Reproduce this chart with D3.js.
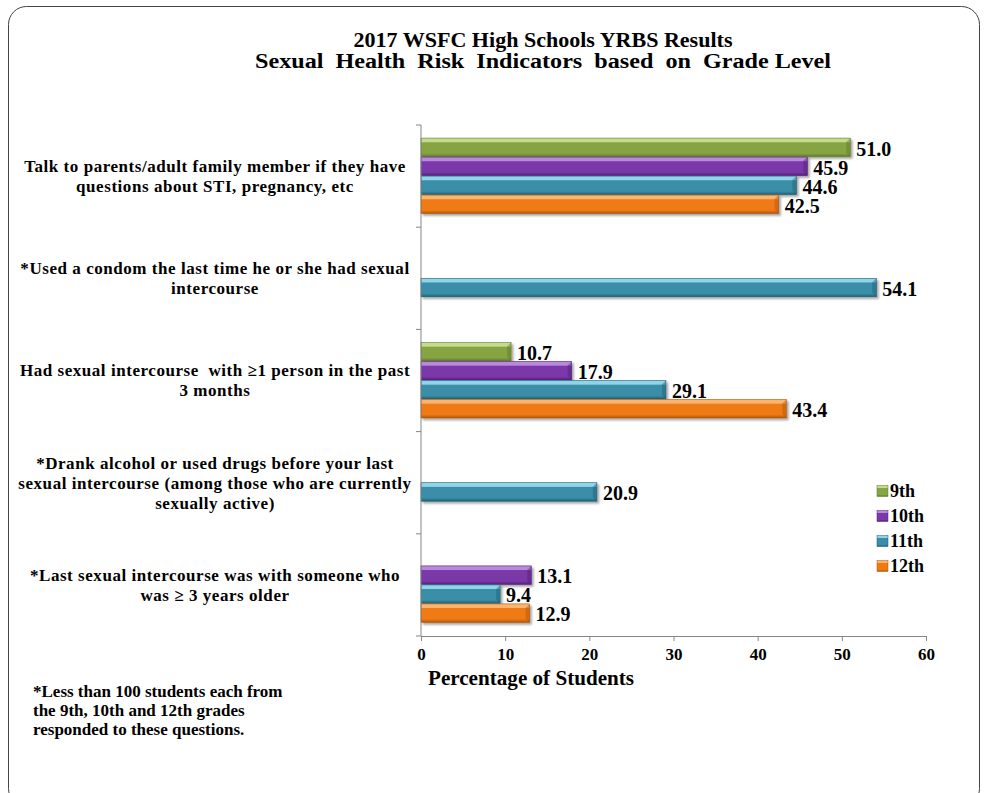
<!DOCTYPE html>
<html><head><meta charset="utf-8">
<script src="https://cdn.jsdelivr.net/npm/d3@7"></script>
<style>html,body{margin:0;padding:0;background:#fff;}svg{display:block;font-family:"Liberation Serif","Times New Roman",serif;font-weight:bold;}</style>
</head><body><svg id="c" width="987" height="793"></svg>
<script>
const titleLines = ["2017 WSFC High Schools YRBS Results", "Sexual  Health  Risk  Indicators  based  on  Grade Level"];
const categories = [
  ["Talk to parents/adult family member if they have", "questions about STI, pregnancy, etc"],
  ["*Used a condom the last time he or she had sexual", "intercourse"],
  ["Had sexual intercourse  with \u22651 person in the past", "3 months"],
  ["*Drank alcohol or used drugs before your last", "sexual intercourse (among those who are currently", "sexually active)"],
  ["*Last sexual intercourse was with someone who", "was \u2265 3 years older"]
];
const grades = ["9th", "10th", "11th", "12th"];
const values9th  = [51.0, null, 10.7, null, null];
const values10th = [45.9, null, 17.9, null, 13.1];
const values11th = [44.6, 54.1, 29.1, 20.9, 9.4];
const values12th = [42.5, null, 43.4, null, 12.9];
const xTicks = [0, 10, 20, 30, 40, 50, 60];
const xTitle = "Percentage of Students";
const footnote = ["*Less than 100 students each from", "the 9th, 10th and 12th grades", "responded to these questions."];
const colors = {"9th": ["#c5dc8e", "#86a543", "#5f7a2a"], "10th": ["#b889dc", "#7a38a8", "#52207a"], "11th": ["#8fd4e8", "#3a8ea8", "#1f6073"], "12th": ["#fbb56e", "#ef7a12", "#b0560a"]};

const seriesByGrade = {"9th": values9th, "10th": values10th, "11th": values11th, "12th": values12th};

const svg = d3.select("#c");
const defs = svg.append("defs");
grades.forEach((g, i) => {
  const c = colors[g];
  const lg = defs.append("linearGradient").attr("id", "g" + i).attr("x1", 0).attr("y1", 0).attr("x2", 0).attr("y2", 1);
  lg.append("stop").attr("offset", "0").attr("stop-color", c[0]);
  lg.append("stop").attr("offset", "0.2").attr("stop-color", c[0]);
  lg.append("stop").attr("offset", "0.25").attr("stop-color", c[1]);
  lg.append("stop").attr("offset", "0.82").attr("stop-color", c[1]);
  lg.append("stop").attr("offset", "1").attr("stop-color", c[2]);
});
const f = defs.append("filter").attr("id", "sh").attr("x", "-5%").attr("y", "-20%").attr("width", "120%").attr("height", "160%");
f.append("feGaussianBlur").attr("in", "SourceAlpha").attr("stdDeviation", 1.2);
f.append("feOffset").attr("dx", 1.5).attr("dy", 2).attr("result", "o");
f.append("feComponentTransfer").append("feFuncA").attr("type", "linear").attr("slope", 0.35);
const fm = f.append("feMerge"); fm.append("feMergeNode"); fm.append("feMergeNode").attr("in", "SourceGraphic");

// border
svg.append("rect").attr("x", 8.5).attr("y", 6.5).attr("width", 971).attr("height", 800).attr("rx", 18)
  .attr("fill", "none").attr("stroke", "#444").attr("stroke-width", 1);

// title
const titleW = [379, 576];
svg.append("g").selectAll("text").data(titleLines).join("text")
  .attr("x", 543).attr("y", (d, i) => 47 + i * 21).attr("text-anchor", "middle")
  .attr("font-size", 20).attr("fill", "#000").style("white-space", "pre")
  .attr("textLength", (d, i) => titleW[i]).attr("lengthAdjust", "spacingAndGlyphs").text(d => d);

const x = d3.scaleLinear().domain([0, 60]).range([421, 926]);
const y = d3.scaleBand().domain(d3.range(categories.length)).range([125, 636]);
const yi = d3.scaleBand().domain(grades).range([0, y.bandwidth()]).paddingOuter(0.69);

// bars
const rows = [];
categories.forEach((c, ci) => grades.forEach((g, gi) => {
  const v = seriesByGrade[g][ci];
  if (v != null) rows.push({ci, g, gi, v});
}));
const bars = svg.append("g").attr("filter", "url(#sh)");
bars.selectAll("rect").data(rows).join("rect")
  .attr("x", x(0)).attr("y", d => y(d.ci) + yi(d.g)).attr("width", d => x(d.v) - x(0)).attr("height", yi.bandwidth() - 0.5)
  .attr("fill", d => "url(#g" + d.gi + ")").attr("stroke", d => colors[d.g][2]).attr("stroke-width", 0.6);
// end bevel
svg.append("g").selectAll("path").data(rows).join("path")
  .attr("d", d => { const x1 = x(d.v), y0 = y(d.ci) + yi(d.g), h = yi.bandwidth() - 0.5; return `M${x1},${y0}L${x1 - 4},${y0 + 4}L${x1 - 4},${y0 + h - 4}L${x1},${y0 + h}Z`; })
  .attr("fill", d => colors[d.g][2]).attr("opacity", 0.45);

// value labels
svg.append("g").selectAll("text").data(rows).join("text")
  .attr("x", d => x(d.v) + 6).attr("y", d => y(d.ci) + yi(d.g) + yi.bandwidth() / 2 + 1).attr("dy", "0.35em")
  .attr("font-size", 20).attr("fill", "#000").text(d => d.v.toFixed(1));

// axes
const ax = svg.append("g").attr("transform", `translate(0,${636})`)
  .call(d3.axisBottom(x).tickValues(xTicks).tickSize(5).tickPadding(7).tickFormat(d3.format("d")));
ax.select(".domain").attr("stroke", "#868686");
ax.selectAll(".tick line").attr("stroke", "#868686");
ax.selectAll("text").attr("font-size", 17).attr("font-family", "Liberation Serif").attr("font-weight", "bold").attr("fill", "#000");

const yBounds = d3.range(categories.length + 1).map(i => 125 + i * y.step());
svg.append("line").attr("x1", 421).attr("x2", 421).attr("y1", 125).attr("y2", 636).attr("stroke", "#868686");
svg.append("g").selectAll("line").data(yBounds).join("line")
  .attr("x1", 416).attr("x2", 421).attr("y1", d => d).attr("y2", d => d).attr("stroke", "#868686");

// category labels
const cl = svg.append("g").selectAll("text").data(categories).join("text")
  .attr("text-anchor", "middle").attr("font-size", 17).attr("fill", "#000").style("letter-spacing", "0.55px");
cl.each(function (d, ci) {
  const cy = y(ci) + y.bandwidth() / 2;
  const n = d.length;
  d3.select(this).selectAll("tspan").data(d).join("tspan")
    .attr("x", 215).attr("y", (t, i) => cy + (i - (n - 1) / 2) * 20).attr("dy", "0.35em").style("white-space", "pre").text(t => t);
});

// x title
svg.append("text").attr("x", 531).attr("y", 685).attr("text-anchor", "middle").attr("font-size", 20)
  .attr("textLength", 206).attr("lengthAdjust", "spacingAndGlyphs").attr("fill", "#000").text(xTitle);

// footnote
svg.append("g").selectAll("text").data(footnote).join("text")
  .attr("x", 33).attr("y", (d, i) => 697 + i * 19).attr("font-size", 17).attr("fill", "#000").text(d => d);

// legend
const lg = svg.append("g").selectAll("g").data(grades).join("g")
  .attr("transform", (d, i) => `translate(877,${491 + i * 25})`);
lg.append("rect").attr("x", 0).attr("y", -5.5).attr("width", 11).attr("height", 11)
  .attr("fill", (d, i) => "url(#g" + i + ")").attr("stroke", d => colors[d][2]).attr("stroke-width", 0.5);
lg.append("text").attr("x", 13).attr("y", 0).attr("dy", "0.35em").attr("font-size", 18).attr("fill", "#000").text(d => d);
</script></body></html>
